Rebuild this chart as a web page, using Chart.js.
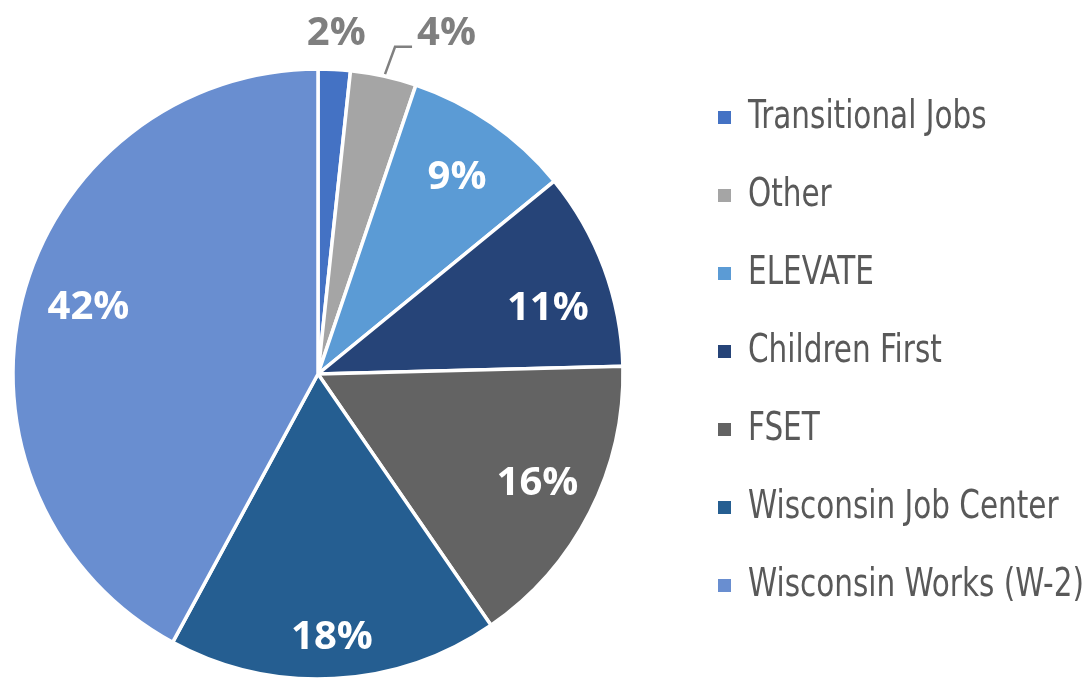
<!DOCTYPE html>
<html lang="en">
<head>
    <meta charset="UTF-8">
    <title>Program share</title>
    <style>
        html, body { margin: 0; padding: 0; background: #fff; }
        #wrap { width: 1088px; height: 683px; }
    </style>
</head>
<body>
    <div id="wrap"><canvas id="pieChart" width="1088" height="683"></canvas></div>

    <script src="https://cdn.jsdelivr.net/npm/chart.js"></script>
    <script>
        // data (share of participants, %)
        const programs = ['Transitional Jobs', 'Other', 'ELEVATE', 'Children First', 'FSET', 'Wisconsin Job Center', 'Wisconsin Works (W-2)'];
        const shares = [1.7, 3.5, 8.9, 10.5, 15.8, 17.5, 42.1];
        const shareLabels = ['2%', '4%', '9%', '11%', '16%', '18%', '42%'];
        const sliceColors = ['#4472C4', '#A5A5A5', '#5B9BD5', '#264478', '#636363', '#255E91', '#698ED0'];

        // small nudges so labels sit where the original put them
        const labelNudge = [[0, 2], [2, -2], [0, 4], [1, 19], [2, -1], [0, 2], [7, -6]];

        const narrowFont = "'DejaVu Sans Condensed', 'DejaVu Sans', sans-serif";
        const labelFont = "'Open Sans', 'Liberation Sans', sans-serif";

        // draws the percent labels (inside for big slices, outside for the tiny ones)
        const sliceLabels = {
            id: 'sliceLabels',
            afterDatasetsDraw(chart) {
                const ctx = chart.ctx;
                const arcs = chart.getDatasetMeta(0).data;
                ctx.save();
                ctx.font = 'bold 40px ' + labelFont;
                ctx.textAlign = 'center';
                ctx.textBaseline = 'middle';
                arcs.forEach((arc, i) => {
                    const mid = (arc.startAngle + arc.endAngle) / 2;
                    const r = arc.outerRadius;
                    const text = shareLabels[i];
                    const [nx, ny] = labelNudge[i];
                    if (i === 0) {
                        ctx.fillStyle = '#7F7F7F';
                        ctx.fillText(text, arc.x + Math.cos(mid) * (r + 38) + nx, arc.y + Math.sin(mid) * (r + 38) + ny);
                    } else if (i === 1) {
                        // leader line for 4%
                        const x0 = arc.x + Math.cos(mid) * (r + 2), y0 = arc.y + Math.sin(mid) * (r + 2);
                        const x1 = arc.x + Math.cos(mid) * (r + 30), y1 = arc.y + Math.sin(mid) * (r + 30);
                        ctx.strokeStyle = '#808080';
                        ctx.lineWidth = 2.5;
                        ctx.beginPath();
                        ctx.moveTo(x0 + 1, y0);
                        ctx.lineTo(x1 + 5, y1);
                        ctx.lineTo(x1 + 22, y1);
                        ctx.stroke();
                        ctx.fillStyle = '#7F7F7F';
                        ctx.textAlign = 'left';
                        ctx.fillText(text, x1 + 25 + nx, y1 - 11 + ny);
                        ctx.textAlign = 'center';
                    } else {
                        const k = i === 5 ? 0.86 : 0.8;
                        ctx.fillStyle = '#FFFFFF';
                        ctx.fillText(text, arc.x + Math.cos(mid) * r * k + nx, arc.y + Math.sin(mid) * r * k + ny);
                    }
                });
                ctx.restore();
            }
        };

        // legend on the right, drawn by hand so the spacing matches
        const sideLegend = {
            id: 'sideLegend',
            afterDraw(chart) {
                const ctx = chart.ctx;
                ctx.save();
                ctx.font = '39px ' + narrowFont;
                ctx.textBaseline = 'middle';
                // squeeze the text so the longest entry ends at the right edge like the original
                const squeeze = 336 / ctx.measureText('Wisconsin Works (W-2)').width;
                chart.data.labels.forEach((name, i) => {
                    const y = 117 + i * 78;
                    ctx.fillStyle = sliceColors[i];
                    ctx.fillRect(718, y - 6, 13, 13);
                    ctx.fillStyle = '#595959';
                    ctx.save();
                    ctx.translate(748, y + 1);
                    ctx.scale(squeeze, 1);
                    ctx.fillText(name, 0, 0);
                    ctx.restore();
                });
                ctx.restore();
            }
        };

        const ctx = document.getElementById('pieChart').getContext('2d');
        const chart = new Chart(ctx, {
            type: 'pie',
            data: {
                labels: programs,
                datasets: [{
                    data: shares,
                    backgroundColor: sliceColors,
                    borderColor: '#FFFFFF',
                    borderWidth: 3.5,
                    radius: 305
                }]
            },
            options: {
                responsive: false,
                animation: false,
                layout: { padding: { left: 13, right: 465, top: 65, bottom: 0 } },
                plugins: {
                    legend: { display: false },
                    tooltip: { enabled: false }
                }
            },
            plugins: [sliceLabels, sideLegend]
        });
    </script>
</body>
</html>
